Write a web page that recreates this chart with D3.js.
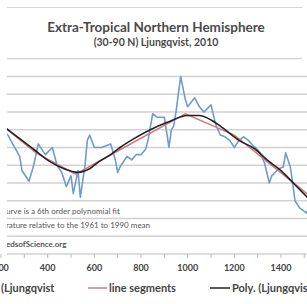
<!DOCTYPE html>
<html>
<head>
<meta charset="utf-8">
<script src="https://cdn.jsdelivr.net/npm/d3@7"></script>
<style>
    body { margin: 0; background: #fff; }
    svg { display: block; font-family: Lato, "Open Sans", sans-serif; }
</style>
</head>
<body>
<svg id="chart" width="307" height="304"></svg>
<script>
// Ljungqvist 2010 decadal series
const years = [200, 210, 230, 250, 280, 290, 320, 340, 360, 390, 420, 440, 460, 480, 500, 510, 530, 540,
    560, 570, 580, 600, 630, 650, 670, 690, 700, 710, 740, 760, 780, 800, 820, 830, 850, 870, 900, 920,
    930, 940, 950, 970, 990, 1000, 1030, 1050, 1070, 1100, 1120, 1140, 1160, 1180, 1200, 1220, 1240,
    1260, 1280, 1290, 1310, 1330, 1350, 1360, 1390, 1410, 1420, 1440, 1450, 1460, 1480, 1490, 1510, 1530];
const temps = [0.02, -0.01, -0.03, -0.08, -0.15, -0.23, -0.29, -0.20, -0.08, -0.14, -0.10, -0.20, -0.24,
    -0.32, -0.26, -0.36, -0.23, -0.38, -0.20, -0.06, -0.03, -0.10, -0.10, -0.09, -0.08, -0.17, -0.24,
    -0.21, -0.15, -0.17, -0.14, -0.14, -0.11, -0.06, 0.09, 0.07, 0.07, -0.10, 0.00, 0.02, 0.10, 0.30,
    0.17, 0.13, 0.18, 0.13, 0.10, 0.14, 0.03, -0.03, -0.04, -0.06, -0.10, -0.06, -0.04, -0.06, -0.09,
    -0.10, -0.13, -0.19, -0.30, -0.26, -0.22, -0.21, -0.13, -0.21, -0.30, -0.40, -0.44, -0.45, -0.47, -0.37];

// "line segments" series
const segYears = [200, 350, 520, 700, 990, 1200, 1520];
const segTemps = [0.03, -0.13, -0.25, -0.12, 0.09, -0.03, -0.37];

// 6th order polynomial trend
const polyYears = [200, 280, 340, 410, 470, 530, 580, 620, 670, 710, 770, 840, 910, 1000, 1050, 1100,
    1140, 1220, 1290, 1340, 1400, 1460, 1520];
const polyTemps = [0.03, -0.05, -0.11, -0.18, -0.22, -0.24, -0.22, -0.18, -0.14, -0.10, -0.05, 0.00,
    0.04, 0.08, 0.08, 0.055, 0.02, -0.06, -0.11, -0.17, -0.23, -0.31, -0.39];

const gridValues = [0.3, 0.2, 0.1, 0.0, -0.1, -0.2, -0.3, -0.4, -0.5, -0.6];
const xTicks = [200, 300, 400, 500, 600, 700, 800, 900, 1000, 1100, 1200, 1300, 1400, 1500];
const xLabels = [200, 400, 600, 800, 1000, 1200, 1400];
const notes = ["urve is a 6th order polynomial fit", "rature relative to the 1961 to 1990  mean", "edsofScience.org"];

const svg = d3.select("#chart");
const W = 307;

const x = d3.scaleLinear().domain([200, 1400]).range([1, 281]);
const y = d3.scaleLinear().domain([-0.7, 0.4]).range([254, 58.7]);

svg.append("rect").attr("width", W).attr("height", 304).attr("fill", "#fff");

// frame lines round the title
svg.selectAll(".frame")
    .data([7.5, y(0.4)])
    .enter()
    .append("line")
    .attr("x1", 7).attr("x2", 302)
    .attr("y1", d => d).attr("y2", d => d)
    .attr("stroke", "#d4d4d4").attr("stroke-width", 1.2);

svg.append("text").attr("x", 156).attr("y", 32).attr("text-anchor", "middle")
    .attr("font-size", 13.5).attr("font-weight", "bold").attr("fill", "#4a4a4a")
    .text("Extra-Tropical Northern Hemisphere");
svg.append("text").attr("x", 156).attr("y", 46).attr("text-anchor", "middle")
    .attr("font-size", 10.5).attr("font-weight", "bold").attr("fill", "#4a4a4a")
    .text("(30-90 N) Ljungqvist, 2010");

// plot area is cut at the left of the picture
svg.append("clipPath").attr("id", "plotClip")
    .append("rect").attr("x", 7).attr("y", 60).attr("width", W - 7).attr("height", 196);

const plot = svg.append("g").attr("clip-path", "url(#plotClip)");

plot.selectAll(".grid")
    .data(gridValues)
    .enter()
    .append("line")
    .attr("class", "grid")
    .attr("x1", 0).attr("x2", W)
    .attr("y1", d => y(d)).attr("y2", d => y(d))
    .attr("stroke", "#d2d2d2").attr("stroke-width", 1.4);

// notes written over the plot
plot.selectAll(".note")
    .data(notes)
    .enter()
    .append("text")
    .attr("class", "note")
    .attr("x", 6)
    .attr("y", (d, i) => [214, 228, 247][i])
    .attr("font-size", 8)
    .attr("font-weight", (d, i) => i === 2 ? "bold" : "normal")
    .attr("fill", "#555")
    .text(d => d);

const line = d3.line().x(d => x(d[0])).y(d => y(d[1]));

plot.append("path")
    .datum(d3.zip(years, temps))
    .attr("fill", "none").attr("stroke", "#6d9ccd").attr("stroke-width", 1.6)
    .attr("stroke-linejoin", "round")
    .attr("d", line);

plot.append("path")
    .datum(d3.zip(segYears, segTemps))
    .attr("fill", "none").attr("stroke", "#d27b7b").attr("stroke-width", 1.5)
    .attr("d", line);

plot.append("path")
    .datum(d3.zip(polyYears, polyTemps))
    .attr("fill", "none").attr("stroke", "#222").attr("stroke-width", 1.6)
    .attr("d", line.curve(d3.curveMonotoneX));

// x axis
const xAxis = svg.append("g").attr("transform", "translate(0," + y(-0.7) + ")");
xAxis.append("line").attr("x1", 7).attr("x2", W).attr("stroke", "#bbb").attr("stroke-width", 1.2);
xAxis.selectAll(".tick")
    .data(xTicks)
    .enter()
    .append("line")
    .attr("x1", d => x(d)).attr("x2", d => x(d))
    .attr("y1", 0).attr("y2", 4)
    .attr("stroke", "#bbb");
xAxis.selectAll(".lab")
    .data(xLabels)
    .enter()
    .append("text")
    .attr("x", d => x(d)).attr("y", 17)
    .attr("text-anchor", "middle")
    .attr("font-size", 9).attr("font-weight", "bold").attr("fill", "#444")
    .text(d => d);

// legend
const legend = svg.append("g").attr("transform", "translate(0,292)")
    .attr("font-size", 11).attr("font-weight", "bold").attr("fill", "#444");
legend.append("text").attr("x", 1).attr("y", 0).text("(Ljungqvist");
legend.append("line").attr("x1", 88).attr("x2", 107).attr("y1", -4).attr("y2", -4)
    .attr("stroke", "#d27b7b").attr("stroke-width", 1.5);
legend.append("text").attr("x", 109).attr("y", 0).text("line segments");
legend.append("line").attr("x1", 210).attr("x2", 230).attr("y1", -4).attr("y2", -4)
    .attr("stroke", "#222").attr("stroke-width", 1.5);
legend.append("text").attr("x", 232).attr("y", 0).text("Poly. (Ljungqvist");
</script>
</body>
</html>
